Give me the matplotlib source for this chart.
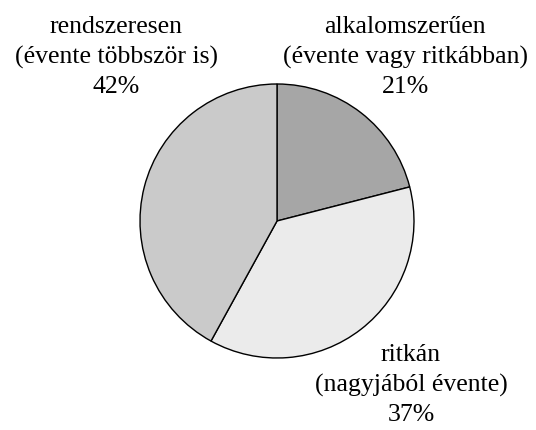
import matplotlib
matplotlib.use("Agg")
import matplotlib.pyplot as plt

# adatok
kategoriak = ["alkalomszerűen\n(évente vagy ritkábban)",
              "ritkán\n(nagyjából évente)",
              "rendszeresen\n(évente többször is)"]
ertekek = [21, 37, 42]
szinek = ["#a6a6a6", "#ebebeb", "#cacaca"]

W, H = 536, 431
fig = plt.figure(figsize=(W/100, H/100), dpi=100)
ax = fig.add_axes([0, 0, 1, 1])

cx, cy, r = 277, H - 222, 137
ax.pie(ertekek, colors=szinek, startangle=90, counterclock=False,
       center=(cx, cy), radius=r,
       wedgeprops=dict(edgecolor="black", linewidth=1.0), frame=True)
ax.set_xlim(0, W)
ax.set_ylim(0, H)
ax.set_aspect("equal")
ax.axis("off")

# címkék helye (pixel, felülről)
cimke_pos = [(405, 57), (411, 385), (116, 57)]
for kat, v, (x, y) in zip(kategoriak, ertekek, cimke_pos):
    ax.text(x, H - y, f"{kat}\n{v}%", ha="center", va="center",
            fontsize=18.5, family="Liberation Serif", linespacing=1.42)

fig.savefig("out.png", dpi=100)
